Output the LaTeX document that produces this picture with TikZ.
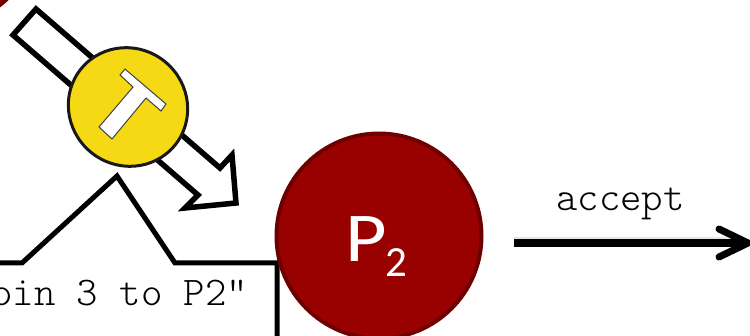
\documentclass[tikz,border=0pt]{standalone}
\usepackage{fontspec}
\newfontfamily\capfont{Carlito}
\newfontfamily\thinmono{Latin Modern Mono Light}
\definecolor{redfill}{HTML}{990000}
\definecolor{redline}{HTML}{6F0000}
\definecolor{coinfill}{HTML}{F5D914}
\tikzset{
  player/.style={circle,draw=redline,fill=redfill,line width=4pt,minimum size=205pt,inner sep=0pt},
  outlined/.style={draw=black,line width=5.5pt,miter limit=10,line join=miter},
  coin/.style={ellipse,draw=black!90,fill=coinfill,line width=3pt,minimum width=121pt,minimum height=117pt,inner sep=0pt,rotate=-40},
  tee/.style={draw=black!75,fill=white,line width=1pt,line join=miter},
  mono/.style={inner sep=0pt,font=\thinmono\fontsize{40.8}{48}\selectfont},
  flow/.style={draw=black,line width=7.5pt},
  flowhead/.style={draw=black,line width=7pt,line cap=round,line join=round},
  flowshade/.style={draw=black!10,line width=3pt}
}
\usetikzlibrary{shapes.geometric}
\begin{document}
\begin{tikzpicture}[x=1pt,y=-1pt]
\useasboundingbox (0,0) rectangle (750,336);
\clip (0,0) rectangle (750,336);
\fill[white] (0,0) rectangle (750,336);
\node[player,minimum size=212pt] (p1) at (-66,-78) {};
% large white move arrow
\draw[outlined,fill=white] (36,9) -- (13,35) -- (198,195) -- (185,208) -- (236,203) -- (232,155) -- (220,168) -- cycle;
\node[coin] (c) at (128,107) {};
\draw[tee] (125,69) -- (166,104) -- (161,111) -- (146,98) -- (112,139) -- (99,127) -- (133,87) -- (120,75) -- cycle;
% speech bubble
\draw[outlined,line width=5pt] (-5,263) -- (22,263) -- (117,176) -- (175,263) -- (277,263) -- (277,345);
\node[mono,anchor=base west] (say) at (-9,305.5) {oin 3 to P2”};
\node[player] (p2) at (379,236) {};
\node[anchor=base west,inner sep=0pt,text=white,xscale=1.15,font=\capfont\fontsize{70}{70}\selectfont] (pl) at (345,262) {P};
\node[anchor=base west,inner sep=0pt,text=white,font=\capfont\fontsize{43}{43}\selectfont] (sub) at (385,277) {2};
% accept arrow
\coordinate (a0) at (514,243);
\coordinate (a1) at (748,243);
\coordinate (h1) at (719,229);
\coordinate (h2) at (719,257);
\draw[flowshade] ([yshift=4.5pt]a0) -- ([yshift=4.5pt,xshift=-10pt]a1);
\draw[flow] (a0) -- (a1);
\draw[flowhead] (h1) -- (a1) -- (h2);
\node[mono,anchor=base] (acc) at (620.5,210.5) {accept};
\end{tikzpicture}
\end{document}
